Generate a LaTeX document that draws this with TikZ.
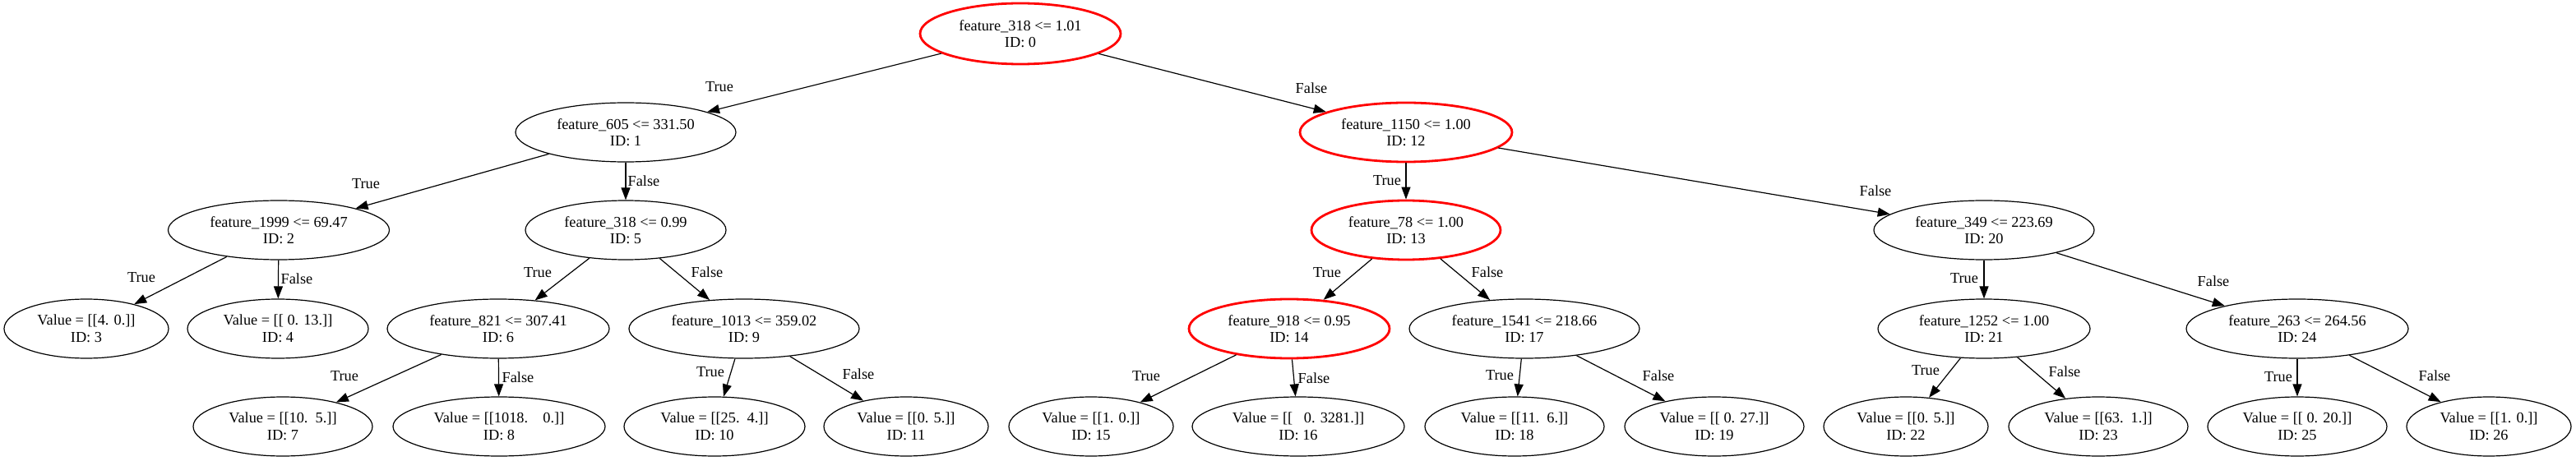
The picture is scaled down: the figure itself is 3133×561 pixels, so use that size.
\documentclass[tikz,border=0pt]{standalone}
\usepackage{fontspec}
\setmainfont{Liberation Serif}
\usetikzlibrary{shapes.geometric,arrows.meta}
\begin{document}
\begin{tikzpicture}[x=1pt,y=-1pt,
  tnode/.style={ellipse,draw=black,line width=1.2pt,inner sep=0pt,minimum height=72pt,align=center,font=\fontsize{18.3}{20.5}\selectfont},
  hot/.style={draw=red,line width=2.8pt},
  elabel/.style={inner sep=0pt,font=\fontsize{18.3}{20.5}\selectfont},
  edge/.style={line width=1.2pt,-{Triangle[length=15pt,width=11pt]}}]
\useasboundingbox (0,0) rectangle (3133,561);
\fill[white] (0,0) rectangle (3133,561);
% level 0
\node[tnode,hot,minimum width=244pt,minimum height=74pt] (n0) at (1241,41) {feature\_318 <= 1.01\\ID: 0};
% level 1
\node[tnode,minimum width=268pt] (n1) at (761,161) {feature\_605 <= 331.50\\ID: 1};
\node[tnode,hot,minimum width=258pt] (n12) at (1710,161) {feature\_1150 <= 1.00\\ID: 12};
% level 2
\node[tnode,minimum width=269pt] (n2) at (339,280) {feature\_1999 <= 69.47\\ID: 2};
\node[tnode,minimum width=244pt] (n5) at (761,280) {feature\_318 <= 0.99\\ID: 5};
\node[tnode,hot,minimum width=230pt] (n13) at (1710,280) {feature\_78 <= 1.00\\ID: 13};
\node[tnode,minimum width=268pt] (n20) at (2413,280) {feature\_349 <= 223.69\\ID: 20};
% level 3
\node[tnode,minimum width=200pt] (n3) at (105,400) {Value = [[4. 0.]]\\ID: 3};
\node[tnode,minimum width=220pt] (n4) at (338,400) {Value = [[\ 0. 13.]]\\ID: 4};
\node[tnode,minimum width=270pt] (n6) at (606,400) {feature\_821 <= 307.41\\ID: 6};
\node[tnode,minimum width=280pt] (n9) at (905,400) {feature\_1013 <= 359.02\\ID: 9};
\node[tnode,hot,minimum width=244pt] (n14) at (1568,400) {feature\_918 <= 0.95\\ID: 14};
\node[tnode,minimum width=280pt] (n17) at (1854,400) {feature\_1541 <= 218.66\\ID: 17};
\node[tnode,minimum width=258pt] (n21) at (2413,400) {feature\_1252 <= 1.00\\ID: 21};
\node[tnode,minimum width=270pt] (n24) at (2794,400) {feature\_263 <= 264.56\\ID: 24};
% level 4
\node[tnode,minimum width=218pt] (n7) at (344,519) {Value = [[10.\ \ 5.]]\\ID: 7};
\node[tnode,minimum width=258pt] (n8) at (607,519) {Value = [[1018.\ \ \ \ 0.]]\\ID: 8};
\node[tnode,minimum width=220pt] (n10) at (869,519) {Value = [[25.\ \ 4.]]\\ID: 10};
\node[tnode,minimum width=200pt] (n11) at (1102,519) {Value = [[0. 5.]]\\ID: 11};
\node[tnode,minimum width=200pt] (n15) at (1327,519) {Value = [[1. 0.]]\\ID: 15};
\node[tnode,minimum width=258pt] (n16) at (1579,519) {Value = [[\ \ \ 0. 3281.]]\\ID: 16};
\node[tnode,minimum width=218pt] (n18) at (1842,519) {Value = [[11.\ \ 6.]]\\ID: 18};
\node[tnode,minimum width=218pt] (n19) at (2085,519) {Value = [[\ 0. 27.]]\\ID: 19};
\node[tnode,minimum width=200pt] (n22) at (2318,519) {Value = [[0. 5.]]\\ID: 22};
\node[tnode,minimum width=218pt] (n23) at (2552,519) {Value = [[63.\ \ 1.]]\\ID: 23};
\node[tnode,minimum width=218pt] (n25) at (2794,519) {Value = [[\ 0. 20.]]\\ID: 25};
\node[tnode,minimum width=200pt] (n26) at (3027,519) {Value = [[1. 0.]]\\ID: 26};
% edges
\draw[edge] (n0) -- (n1);
\draw[edge] (n0) -- (n12);
\draw[edge] (n1) -- (n2);
\draw[edge] (n1) -- (n5);
\draw[edge] (n12) -- (n13);
\draw[edge] (n12) -- (n20);
\draw[edge] (n2) -- (n3);
\draw[edge] (n2) -- (n4);
\draw[edge] (n5) -- (n6);
\draw[edge] (n5) -- (n9);
\draw[edge] (n13) -- (n14);
\draw[edge] (n13) -- (n17);
\draw[edge] (n20) -- (n21);
\draw[edge] (n20) -- (n24);
\draw[edge] (n6) -- (n7);
\draw[edge] (n6) -- (n8);
\draw[edge] (n9) -- (n10);
\draw[edge] (n9) -- (n11);
\draw[edge] (n14) -- (n15);
\draw[edge] (n14) -- (n16);
\draw[edge] (n17) -- (n18);
\draw[edge] (n17) -- (n19);
\draw[edge] (n21) -- (n22);
\draw[edge] (n21) -- (n23);
\draw[edge] (n24) -- (n25);
\draw[edge] (n24) -- (n26);
% edge labels
\node[elabel] (l1) at (875,106) {True};
\node[elabel] (l12) at (1595,107) {False};
\node[elabel] (l2) at (445,224) {True};
\node[elabel] (l5) at (783,220) {False};
\node[elabel] (l13) at (1687,220) {True};
\node[elabel] (l20) at (2281,232) {False};
\node[elabel] (l3) at (172,338) {True};
\node[elabel] (l4) at (361,339) {False};
\node[elabel] (l6) at (654,332) {True};
\node[elabel] (l9) at (860,331) {False};
\node[elabel] (l14) at (1614,332) {True};
\node[elabel] (l17) at (1809,331) {False};
\node[elabel] (l21) at (2389,339) {True};
\node[elabel] (l24) at (2692,342) {False};
\node[elabel] (l7) at (419,458) {True};
\node[elabel] (l8) at (630,459) {False};
\node[elabel] (l10) at (864,453) {True};
\node[elabel] (l11) at (1044,455) {False};
\node[elabel] (l15) at (1394,458) {True};
\node[elabel] (l16) at (1598,460) {False};
\node[elabel] (l18) at (1824,457) {True};
\node[elabel] (l19) at (2017,457) {False};
\node[elabel] (l22) at (2342,451) {True};
\node[elabel] (l23) at (2511,452) {False};
\node[elabel] (l25) at (2771,459) {True};
\node[elabel] (l26) at (2961,457) {False};
\end{tikzpicture}
\end{document}
